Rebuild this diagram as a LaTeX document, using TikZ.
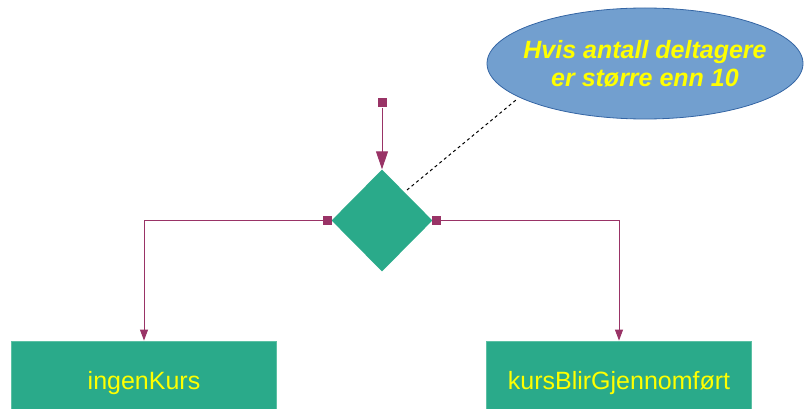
\documentclass[tikz,border=0pt]{standalone}
\usepackage{fontspec}
\setmainfont{Liberation Sans}
\usetikzlibrary{shapes.geometric,arrows.meta}

\definecolor{actgreen}{HTML}{2AAA8A}
\definecolor{actedge}{HTML}{5CC0A4}
\definecolor{flowline}{HTML}{993366}
\definecolor{notefill}{HTML}{729FCF}
\definecolor{noteedge}{HTML}{3465A4}
\definecolor{labelyellow}{HTML}{FFFF00}

\tikzset{
  actionbox/.style={rectangle, fill=actgreen, draw=actedge, line width=0.8pt,
    minimum width=265pt, minimum height=84pt, inner sep=0pt,
    text=labelyellow, font=\fontsize{25}{29}\selectfont,
    text height=17.5pt, text depth=5pt},
  decision/.style={diamond, fill=actgreen, draw=none, inner sep=0pt,
    minimum width=101pt, minimum height=102pt},
  port/.style={rectangle, fill=flowline, draw=none, inner sep=0pt,
    minimum size=9pt},
  flow/.style={draw=flowline, line width=1pt},
  bigtip/.style={-{Triangle[width=12pt,length=18pt]}},
  smalltip/.style={-{Triangle[width=8pt,length=11pt]}},
  % the negative x-separation keeps the ellipse at its own size around the wide text
  note/.style={ellipse, fill=notefill, draw=noteedge, line width=0.8pt,
    minimum width=316pt, minimum height=111pt, inner xsep=-14pt, inner ysep=0pt,
    text=labelyellow, align=center,
    font=\fontsize{25}{27.7}\selectfont\bfseries\itshape},
  notelink/.style={draw=black, line width=1pt, dash pattern=on 3pt off 3pt}
}

\begin{document}
\begin{tikzpicture}[x=1pt, y=-1pt]
  \clip (0,0) rectangle (805,409);

  % decision diamond and its ports
  \node[decision] (dec) at (382,220.5) {};
  \node[port] (pin) at (382,103) {};
  \node[port] (pleft) at (327.4,220.3) {};
  \node[port] (pright) at (436.3,220.3) {};

  % outcome actions
  \node[actionbox] (ingen) at (144,383) {ingenKurs};
  \node[actionbox] (kurs) at (619,383) {kursBlirGjennomført};

  % comment bubble
  \node[note] (cond) at (645,63.5) {Hvis antall deltagere\\er større enn 10};

  % flows
  \draw[flow, bigtip] (pin) -- (dec.north);
  \draw[flow, smalltip] (pleft.west) -| (ingen.north);
  \draw[flow, smalltip] (pright.east) -| (kurs.north);

  % dashed link from the decision to its comment
  \coordinate (linkA) at (407,190);
  \coordinate (linkB) at (516,100);
  \draw[notelink] (linkA) -- (linkB);
\end{tikzpicture}
\end{document}
